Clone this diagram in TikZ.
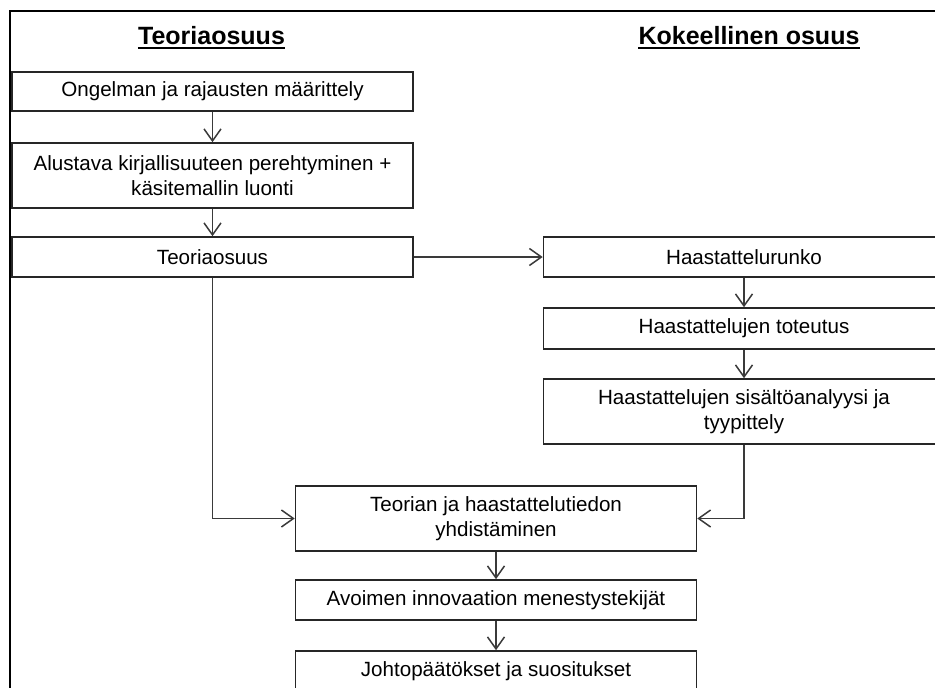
\documentclass[tikz,border=0pt]{standalone}
\usepackage{fontspec}
\setmainfont{Liberation Sans}
\usetikzlibrary{arrows.meta}
\definecolor{edge}{HTML}{262626}
\definecolor{wire}{HTML}{3A3A3A}
\begin{document}
\begin{tikzpicture}[x=1pt,y=-1pt,
  stepbox/.style={draw=edge,line width=1.6pt,fill=white,minimum width=401pt,
    inner sep=0pt,align=center,font=\fontsize{20.6}{25}\selectfont,text=black},
  heading/.style={inner sep=0pt,anchor=base,font=\fontsize{25}{30}\selectfont\bfseries},
  arr/.style={draw=wire,line width=1.5pt,-{Straight Barb[length=12pt,width=17pt,line width=1.5pt]}},
]
\useasboundingbox (0,0) rectangle (935,688);
\clip (0,0) rectangle (935,688);
\fill[white] (0,0) rectangle (935,688);

% outer frame
\draw[line width=2.4pt,black] (10,11) rectangle (990,740);

% column headings
\node[heading] (h1) at (211.5,45) {Teoriaosuus};
\node[heading] (h2) at (749,45) {Kokeellinen osuus};
\draw[line width=2pt] ([yshift=-3pt]h1.base west) -- ([yshift=-3pt]h1.base east);
\draw[line width=2pt] ([yshift=-3pt]h2.base west) -- ([yshift=-3pt]h2.base east);

% theory column
\node[stepbox,minimum height=39pt] (ong) at (212.5,91.5) {Ongelman ja rajausten  määrittely};
\node[stepbox,minimum height=65pt] (alu) at (212.5,175.5) {Alustava kirjallisuuteen  perehtyminen +\\käsitemallin luonti};
\node[stepbox,minimum height=40pt] (teo) at (212.5,257) {Teoriaosuus};

% experimental column
\node[stepbox,minimum height=40pt] (run) at (744,257) {Haastattelurunko};
\node[stepbox,minimum height=41pt] (tot) at (744,328.5) {Haastattelujen toteutus};
\node[stepbox,minimum height=65pt] (sis) at (744,411.5) {Haastattelujen sisältöanalyysi ja\\tyypittely};

% combined column
\node[stepbox,minimum height=65pt] (yhd) at (496,518.5) {Teorian ja haastattelutiedon\\yhdistäminen};
\node[stepbox,minimum height=40pt] (avo) at (496,600) {Avoimen innovaation menestystekijät};
\node[stepbox,minimum height=40pt] (joh) at (496,671) {Johtopäätökset ja suositukset};

% connectors
\draw[arr] (ong) -- (alu);
\draw[arr] (alu) -- (teo);
\draw[arr] (teo) -- (run);
\draw[arr] (run) -- (tot);
\draw[arr] (tot) -- (sis);
\draw[arr] (teo.south) |- (yhd.west);
\draw[arr] (sis.south) |- (yhd.east);
\draw[arr] (yhd) -- (avo);
\draw[arr] (avo) -- (joh);
\end{tikzpicture}
\end{document}
